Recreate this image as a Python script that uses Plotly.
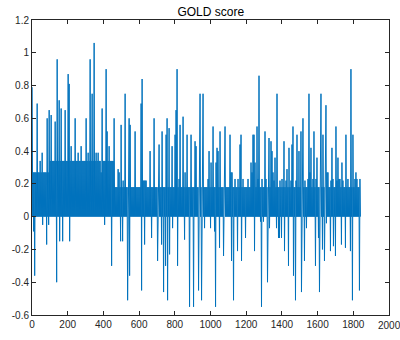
import numpy as np
import plotly.graph_objects as go

# GOLD score per sample, summarised as the high and low reading of each
# consecutive block of samples (blocks run in order from sample 1 to 1840).
score_high = [
    0.79, 0.27, 0.27, 0.27, 0.27, 0.69, 0.27, 0.27, 0.34, 0.27,
    0.39, 0.27, 0.27, 0.27, 0.27, 0.60, 0.27, 0.65, 0.34, 0.62,
    0.34, 0.34, 0.34, 0.58, 0.34, 0.96, 0.34, 0.71, 0.34, 0.66,
    0.34, 0.34, 0.34, 0.65, 0.34, 0.34, 0.87, 0.81, 0.34, 0.43,
    0.34, 0.34, 0.34, 0.60, 0.34, 0.34, 0.39, 0.34, 0.34, 0.43,
    0.34, 0.34, 0.34, 0.34, 0.60, 0.34, 0.39, 0.34, 0.96, 0.34,
    0.75, 0.34, 1.06, 0.34, 0.39, 0.34, 0.39, 0.34, 0.34, 0.27,
    0.66, 0.34, 0.34, 0.34, 0.90, 0.52, 0.34, 0.43, 0.34, 0.34,
    0.34, 0.34, 0.60, 0.18, 0.18, 0.18, 0.29, 0.27, 0.18, 0.56,
    0.18, 0.22, 0.18, 0.75, 0.18, 0.18, 0.18, 0.60, 0.56, 0.18,
    0.18, 0.18, 0.18, 0.52, 0.18, 0.18, 0.18, 0.18, 0.18, 0.69,
    0.84, 0.22, 0.22, 0.22, 0.22, 0.18, 0.18, 0.18, 0.40, 0.18,
    0.18, 0.18, 0.60, 0.18, 0.18, 0.18, 0.18, 0.44, 0.18, 0.18,
    0.52, 0.18, 0.18, 0.18, 0.50, 0.60, 0.18, 0.54, 0.18, 0.18,
    0.43, 0.18, 0.18, 0.50, 0.65, 0.90, 0.18, 0.23, 0.56, 0.18,
    0.18, 0.61, 0.18, 0.27, 0.18, 0.50, 0.18, 0.18, 0.18, 0.50,
    0.18, 0.18, 0.18, 0.46, 0.43, 0.18, 0.18, 0.18, 0.75, 0.18,
    0.18, 0.75, 0.18, 0.18, 0.18, 0.18, 0.23, 0.40, 0.18, 0.33,
    0.18, 0.55, 0.18, 0.18, 0.33, 0.42, 0.40, 0.18, 0.52, 0.18,
    0.18, 0.18, 0.18, 0.55, 0.18, 0.18, 0.18, 0.18, 0.50, 0.27,
    0.27, 0.18, 0.18, 0.23, 0.18, 0.18, 0.23, 0.18, 0.44, 0.50,
    0.18, 0.23, 0.18, 0.18, 0.18, 0.18, 0.23, 0.18, 0.18, 0.33,
    0.27, 0.50, 0.50, 0.33, 0.18, 0.55, 0.23, 0.86, 0.18, 0.18,
    0.23, 0.18, 0.18, 0.52, 0.23, 0.18, 0.18, 0.48, 0.18, 0.46,
    0.40, 0.27, 0.22, 0.36, 0.18, 0.75, 0.18, 0.18, 0.22, 0.18,
    0.23, 0.18, 0.46, 0.18, 0.22, 0.29, 0.18, 0.42, 0.18, 0.22,
    0.44, 0.55, 0.18, 0.18, 0.22, 0.50, 0.18, 0.40, 0.18, 0.52,
    0.18, 0.60, 0.18, 0.22, 0.18, 0.18, 0.23, 0.75, 0.27, 0.42,
    0.18, 0.23, 0.52, 0.18, 0.23, 0.36, 0.18, 0.18, 0.22, 0.75,
    0.18, 0.50, 0.18, 0.18, 0.68, 0.27, 0.27, 0.18, 0.18, 0.22,
    0.42, 0.23, 0.18, 0.18, 0.55, 0.22, 0.36, 0.23, 0.23, 0.18,
    0.33, 0.22, 0.18, 0.18, 0.50, 0.18, 0.23, 0.18, 0.18, 0.90,
    0.18, 0.50, 0.18, 0.23, 0.27, 0.23, 0.18, 0.18, 0.23,
]

score_low = [
    0.00, -0.09, -0.36, 0.00, 0.00, 0.00, 0.00, 0.00, 0.00, 0.00,
    -0.05, 0.00, 0.00, 0.00, -0.17, 0.00, -0.05, 0.00, 0.00, 0.00,
    0.00, 0.00, 0.00, 0.00, -0.40, 0.00, 0.00, -0.15, 0.00, 0.00,
    -0.15, 0.00, 0.00, 0.00, 0.00, 0.00, 0.00, -0.15, 0.00, 0.00,
    0.00, 0.00, 0.00, 0.00, 0.00, 0.00, 0.00, 0.00, 0.00, 0.00,
    0.00, 0.00, 0.00, 0.00, 0.00, 0.00, 0.00, 0.00, 0.00, 0.00,
    0.00, 0.00, 0.00, 0.00, 0.00, 0.00, 0.00, 0.00, 0.00, 0.00,
    0.00, 0.00, -0.05, 0.00, 0.00, 0.00, 0.00, 0.00, 0.00, -0.30,
    0.00, 0.00, 0.00, 0.00, 0.00, 0.00, 0.00, 0.00, -0.15, 0.00,
    -0.15, 0.00, 0.00, 0.00, 0.00, -0.51, 0.00, -0.36, 0.00, 0.00,
    0.00, 0.00, 0.00, 0.00, 0.00, 0.00, 0.00, 0.00, 0.00, -0.45,
    0.00, 0.00, -0.17, 0.00, 0.00, 0.00, 0.00, 0.00, 0.00, -0.13,
    0.00, 0.00, 0.00, 0.00, 0.00, -0.27, 0.00, 0.00, 0.00, -0.17,
    0.00, -0.46, 0.00, -0.30, 0.00, -0.51, 0.00, -0.23, 0.00, 0.00,
    -0.07, 0.00, 0.00, 0.00, 0.00, -0.30, 0.00, 0.00, 0.00, 0.00,
    0.00, 0.00, -0.14, 0.00, 0.00, 0.00, 0.00, -0.55, 0.00, 0.00,
    0.00, -0.55, 0.00, 0.00, 0.00, 0.00, -0.45, 0.00, 0.00, -0.51,
    0.00, 0.00, -0.07, 0.00, 0.00, 0.00, 0.00, 0.00, -0.07, 0.00,
    0.00, 0.00, -0.09, -0.55, 0.00, 0.00, 0.00, -0.19, 0.00, 0.00,
    0.00, -0.24, 0.00, 0.00, 0.00, 0.00, 0.00, 0.00, 0.00, -0.27,
    0.00, -0.51, 0.00, 0.00, 0.00, -0.21, 0.00, 0.00, 0.00, -0.27,
    0.00, 0.00, 0.00, -0.13, 0.00, 0.00, 0.00, 0.00, 0.00, 0.00,
    0.00, 0.00, -0.21, 0.00, 0.00, 0.00, 0.00, 0.00, -0.03, -0.55,
    0.00, -0.03, 0.00, 0.00, 0.00, -0.40, 0.00, -0.07, 0.00, 0.00,
    0.00, 0.00, 0.00, 0.00, -0.07, 0.00, -0.13, -0.13, 0.00, -0.13,
    0.00, 0.00, -0.21, 0.00, 0.00, 0.00, -0.30, 0.00, 0.00, 0.00,
    0.00, -0.36, 0.00, -0.51, 0.00, 0.00, 0.00, 0.00, 0.00, -0.46,
    0.00, 0.00, -0.27, 0.00, -0.07, 0.00, 0.00, 0.00, 0.00, 0.00,
    0.00, 0.00, 0.00, -0.30, 0.00, 0.00, -0.13, -0.46, 0.00, 0.00,
    -0.20, 0.00, -0.27, 0.00, -0.04, 0.00, 0.00, 0.00, -0.21, 0.00,
    0.00, -0.18, 0.00, -0.24, 0.00, 0.00, 0.00, 0.00, 0.00, -0.17,
    0.00, 0.00, 0.00, -0.19, 0.00, 0.00, 0.00, 0.00, -0.21, 0.00,
    -0.51, 0.00, 0.00, 0.00, 0.00, 0.00, 0.00, -0.45, 0.00,
]

first_sample = 1
last_sample = 1840

x_ticks = [0, 200, 400, 600, 800, 1000, 1200, 1400, 1600, 1800, 2000]
y_ticks = [-0.6, -0.4, -0.2, 0, 0.2, 0.4, 0.6, 0.8, 1, 1.2]
y_tick_text = ["-0.6", "-0.4", "-0.2", "0", "0.2", "0.4", "0.6", "0.8", "1", "1.2"]

tick_font = dict(family="Liberation Sans, Arial, sans-serif", size=10, color="#262626")

# Interleave high/low readings so each block is drawn as one up-down stroke
score = np.column_stack([score_high, score_low]).ravel()
sample = np.linspace(first_sample, last_sample, score.size)

fig = go.Figure()
fig.add_trace(go.Scatter(
    x=sample, y=score, mode="lines",
    line=dict(color="#0072BD", width=1),
    hoverinfo="skip", showlegend=False,
))

axis_common = dict(
    showline=True, linecolor="#262626", linewidth=1, mirror="ticks",
    ticks="inside", ticklen=4, tickwidth=1, tickcolor="#262626",
    showgrid=False, zeroline=False, tickfont=tick_font,
)

fig.update_xaxes(range=[0, 2000], tickvals=x_ticks, **axis_common)
fig.update_yaxes(range=[-0.6, 1.2], tickvals=y_ticks, ticktext=y_tick_text, **axis_common)

# The last x label sits at the right edge of the figure and is cut by it
fig.add_annotation(
    x=x_ticks[-1], y=0, xref="x", yref="paper", yanchor="top", yshift=-3,
    text=str(x_ticks[-1]), showarrow=False, font=tick_font,
)

fig.update_layout(
    width=400, height=340,
    margin=dict(l=32, r=10, t=20, b=20),
    paper_bgcolor="white", plot_bgcolor="white",
    title=dict(
        text="GOLD score", x=0.527, xanchor="center", y=0.966, yanchor="middle",
        font=dict(family="Liberation Sans, Arial, sans-serif", size=12, color="#000000"),
    ),
)

fig.write_html("out.html")
